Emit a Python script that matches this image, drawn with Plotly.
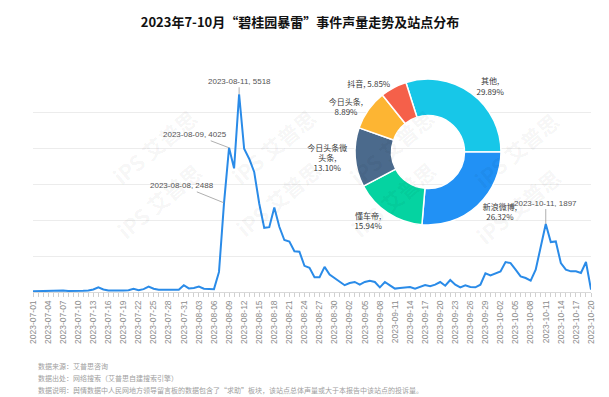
import datetime as dt
import plotly.graph_objects as go

# ---------------- data ----------------
start_date = "2023-07-01"
volume = [
    20, 25, 30, 45, 30, 35, 40, 30, 25, 30, 35, 45, 70, 130, 70, 40, 35, 40, 45, 50,
    90, 50, 80, 150, 90, 60, 55, 50, 45, 60, 190, 100, 110, 150, 90, 85, 80, 560, 2488, 4025,
    3450, 5518, 4000, 3720, 3350, 2470, 1790, 1810, 2360, 1820, 1450, 1405, 1135, 1125, 730, 675,
    415, 415, 700, 490, 390, 280, 190, 250, 280, 205, 280, 315, 280, 130, 280, 186,
    95, 110, 130, 140, 95, 140, 195, 160, 204, 279, 176, 334, 204, 130, 186, 139,
    130, 204, 520, 465, 520, 576, 836, 808, 622, 437, 390, 316, 622, 1226, 1897, 1393,
    1412, 808, 622, 576, 576, 529, 836, 65,
]
peak_dates = ["2023-08-08", "2023-08-09", "2023-08-11", "2023-10-11"]

site_names = ["其他", "新浪微博", "懂车帝", "今日头条微头条", "今日头条", "抖音"]
site_display = ["其他", "新浪微博", "懂车帝", "今日头条微<br>头条", "今日头条", "抖音"]
site_share = [29.89, 26.32, 15.94, 13.10, 8.89, 5.85]

title_text = "2023年7-10月“碧桂园暴雷”事件声量走势及站点分布"
footer_lines = [
    "数据来源：艾普思咨询",
    "数据出处：网络搜索（艾普思自建搜索引擎）",
    "数据说明：舆情数据中人民网地方领导留言板的数据包含了“求助”板块，该站点总体声量或大于本报告中该站点的投诉量。",
]
watermark_text = "<b>iPS 艾普思</b>"

# ---------------- layout constants ----------------
d0 = dt.date.fromisoformat(start_date)
date_str = [(d0 + dt.timedelta(days=i)).isoformat() for i in range(len(volume))]
tick_vals = date_str[::3]

W, H = 609, 397
ML, MR, MT, MB = 25, 26, 69, 113
PW, PH = W - ML - MR, H - MT - MB
BASE = H - MB  # pixel row of the x axis


def px_x(x):
    return (x - ML) / PW


def px_y(y):
    return (BASE - y) / PH


CJK = "Noto Sans CJK SC, Microsoft YaHei, sans-serif"
LAT = "Liberation Sans, Arial, Noto Sans CJK SC, sans-serif"

fig = go.Figure()

fig.add_trace(go.Scatter(
    x=date_str, y=volume, mode="lines",
    line=dict(color="#2A8BE8", width=2),
    showlegend=False, hoverinfo="x+y",
))

pie_colors = ["#17C7E8", "#2191F5", "#05D3A1", "#4B6A8C", "#FDB533", "#F5604A"]
pie_text = []
for name, v in zip(site_display, site_share):
    sep = ", " if name == "抖音" else ",<br>"
    pie_text.append(f"{name}{sep}{v:.2f}%")

cx, cy, rad = 420, 144, 73
fig.add_trace(go.Pie(
    labels=site_names, values=site_share, text=pie_text,
    textinfo="text", textposition="outside",
    outsidetextfont=dict(size=8, color="#3a3a3a", family=CJK),
    hole=0.5, sort=False, direction="clockwise", rotation=-17.6,
    marker=dict(colors=pie_colors, line=dict(color="white", width=1.5)),
    domain=dict(x=[px_x(cx - rad), px_x(cx + rad)],
                y=[px_y(cy + rad), px_y(cy - rad)]),
    showlegend=False, hoverinfo="label+percent",
))

offsets = {"2023-08-08": (-42, -17), "2023-08-09": (-34, -13),
           "2023-08-11": (0, -13), "2023-10-11": (0, -21)}
annots = []

# faint watermarks (drawn first, beneath other annotations), kept inside the canvas
wm_pos = [(95, 92), (265, 92), (435, 92), (560, 95),
          (100, 240), (270, 238), (437, 238), (562, 245)]
for (wx, wy) in wm_pos:
    annots.append(dict(
        x=px_x(wx), y=px_y(wy), xref="paper", yref="paper",
        showarrow=False, text=watermark_text, textangle=-40,
        font=dict(size=21, color="rgba(0,0,0,0.05)", family=CJK),
    ))

# peak annotations
for pd_ in peak_dates:
    i = date_str.index(pd_)
    ax, ay = offsets[pd_]
    annots.append(dict(
        x=pd_, y=volume[i], xref="x", yref="y",
        text=f"{pd_}, {volume[i]}", showarrow=True, arrowhead=0,
        arrowwidth=0.8, arrowcolor="#9a9a9a", ax=ax, ay=ay,
        font=dict(size=8, color="#555", family=LAT),
    ))

# footer
for t, yy in zip(footer_lines, [358, 370, 382]):
    annots.append(dict(
        x=px_x(28), y=px_y(yy), xref="paper", yref="paper",
        xanchor="left", yanchor="middle", showarrow=False, text=t,
        font=dict(size=7, color="#a0a0a0", family=CJK),
    ))

fig.update_layout(
    width=W, height=H,
    margin=dict(l=ML, r=MR, t=MT, b=MB),
    paper_bgcolor="white", plot_bgcolor="white",
    title=dict(text=f"<b>{title_text}</b>", x=292 / W, xanchor="center",
               y=1 - 14 / H, yanchor="middle",
               font=dict(size=13, color="#111", family=CJK)),
    xaxis=dict(
        type="date", range=[date_str[0], date_str[-1]],
        tickmode="array", tickvals=tick_vals, tickformat="%Y-%m-%d",
        tickangle=-90, tickfont=dict(size=8.5, color="#8c8c8c", family=LAT),
        showgrid=False, showline=True, linecolor="#d9d9d9", linewidth=1,
        ticks="outside", ticklen=4, tickcolor="#d0d0d0",
        minor=dict(dtick=86400000, ticks="outside", ticklen=4,
                   tickcolor="#d0d0d0", showgrid=False),
        zeroline=False,
    ),
    yaxis=dict(
        range=[0, 6000], dtick=1000, showticklabels=False,
        showgrid=True, gridcolor="#ececec", gridwidth=1, zeroline=False,
        showline=False, ticks="",
    ),
    annotations=annots,
)

fig.write_html("out.html")
